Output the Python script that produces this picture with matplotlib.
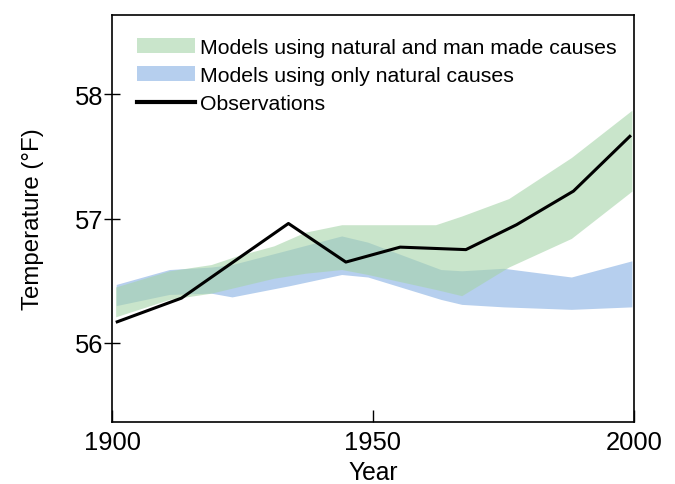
import numpy as np
import matplotlib
matplotlib.use('Agg')
import matplotlib.pyplot as plt
from matplotlib.patches import Patch
from matplotlib.lines import Line2D

plt.rcParams['font.family'] = ['Liberation Sans', 'DejaVu Sans']

# observations
obs_year = [1901, 1913.3, 1933.8, 1944.8, 1955.2, 1967.8, 1977.5, 1988.4, 1999.2]
obs_temp = [56.17, 56.36, 56.96, 56.65, 56.77, 56.75, 56.95, 57.22, 57.66]

# models using natural and man made causes (green band)
all_year = [1900.7, 1911, 1919, 1924, 1931, 1937, 1944, 1949, 1962, 1967, 1976, 1988, 1999.6]
all_hi = [56.45, 56.58, 56.63, 56.70, 56.78, 56.89, 56.95, 56.95, 56.95, 57.02, 57.16, 57.49, 57.87]
all_lo = [56.21, 56.35, 56.40, 56.45, 56.52, 56.56, 56.59, 56.55, 56.43, 56.38, 56.61, 56.84, 57.22]

# models using only natural causes (blue band)
nat_year = [1900.8, 1911, 1919, 1923, 1934, 1944, 1949, 1963, 1967, 1975, 1988, 1999.6]
nat_hi = [56.47, 56.59, 56.61, 56.63, 56.75, 56.86, 56.81, 56.59, 56.58, 56.60, 56.53, 56.66]
nat_lo = [56.30, 56.39, 56.40, 56.37, 56.46, 56.55, 56.53, 56.35, 56.31, 56.29, 56.27, 56.29]

blue = '#b6cfee'
green = '#a6d4a9'
green_a = 0.6

fig = plt.figure(figsize=(6.75, 4.85), dpi=100)
ax = fig.add_axes([112/675, 1-423/485, 522/675, 407/485])

ax.fill_between(nat_year, nat_lo, nat_hi, color=blue, lw=0)
ax.fill_between(all_year, all_lo, all_hi, color=green, alpha=green_a, lw=0)
ax.plot(obs_year, obs_temp, color='black', lw=2.2)

ax.set_xlim(1900, 2000)
ax.set_ylim(55.365, 58.635)
ax.set_xticks([1900, 1950, 2000])
ax.set_yticks([56, 57, 58])
ax.tick_params(axis='x', direction='in', length=9, width=1, labelsize=18.4, pad=6)
ax.tick_params(axis='y', direction='inout', length=11, width=1, labelsize=18.4, pad=1)
for s in ax.spines.values():
    s.set_linewidth(1.2)

ax.set_xlabel('Year', fontsize=17.7, labelpad=4)
ax.set_ylabel('Temperature (°F)', fontsize=17.3, labelpad=22)

handles = [Patch(facecolor=green, alpha=green_a, lw=0),
           Patch(facecolor=blue, lw=0),
           Line2D([0], [0], color='black', lw=3)]
labels = ['Models using natural and man made causes',
          'Models using only natural causes',
          'Observations']
ax.legend(handles, labels, loc='upper left', bbox_to_anchor=(0.048, 0.944),
          frameon=False, fontsize=15.3, borderpad=0, borderaxespad=0,
          handlelength=2.73, handleheight=0.75, handletextpad=0.25,
          labelspacing=0.42)

fig.savefig('out.png', dpi=100)
